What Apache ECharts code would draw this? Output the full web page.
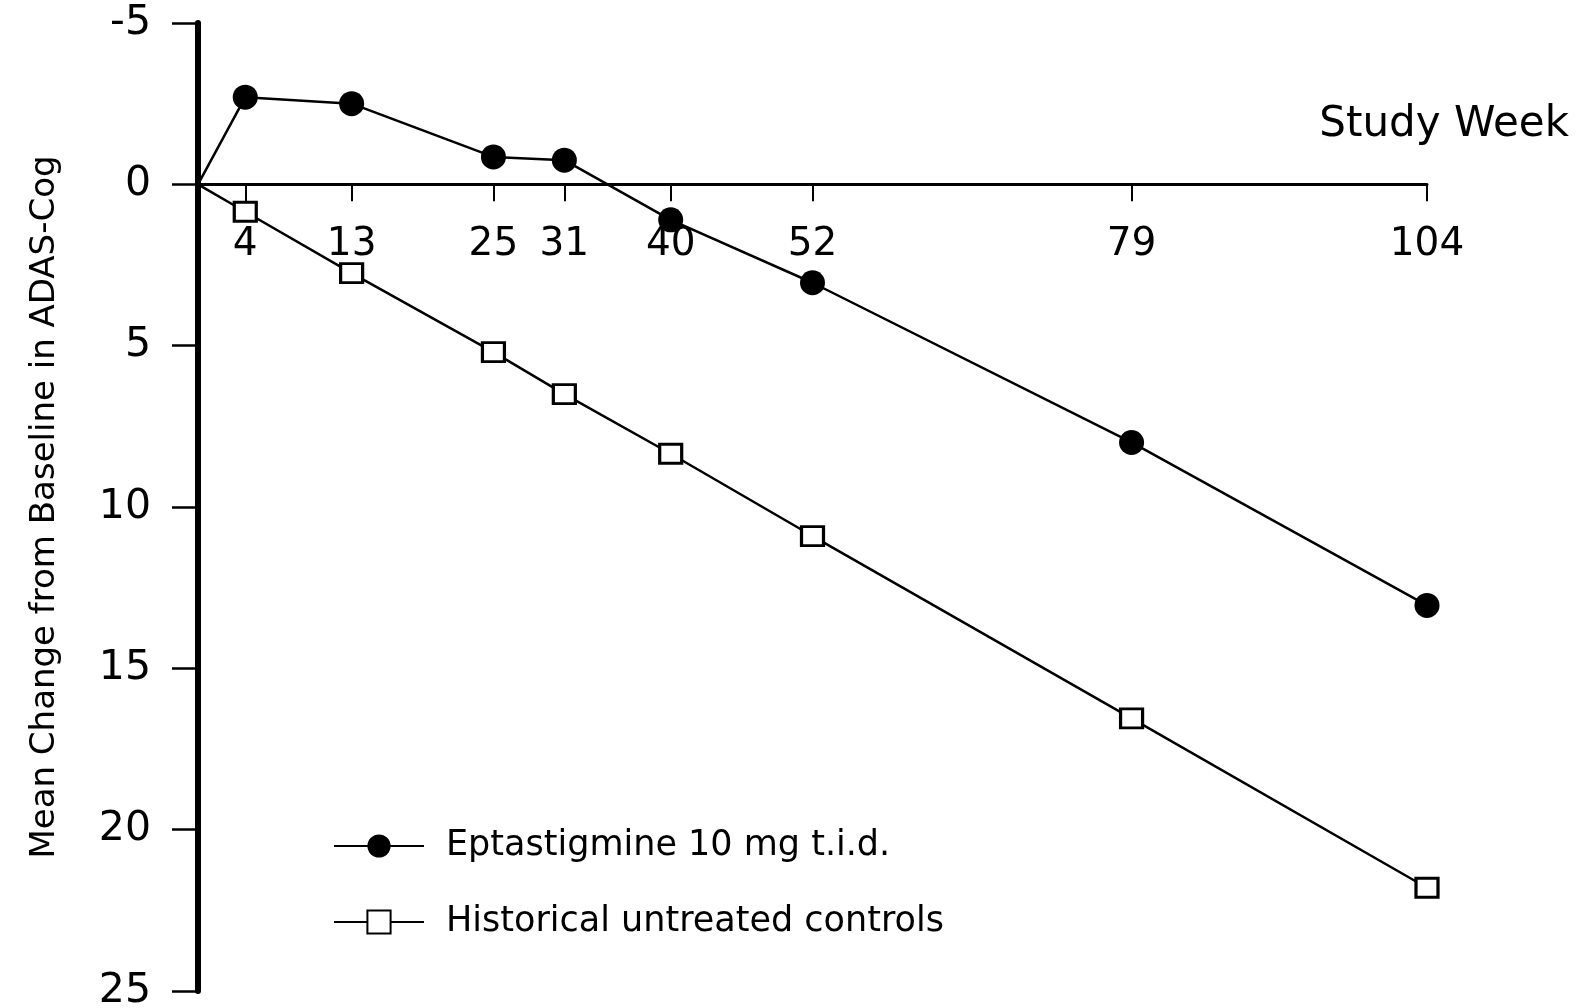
<!DOCTYPE html>
<html>
<head>
<meta charset="utf-8">
<script src="https://cdn.jsdelivr.net/npm/echarts@6/dist/echarts.min.js"></script>
<style>
  html, body { margin: 0; padding: 0; background: #fff; }
  #chart { width: 1583px; height: 1008px; }
</style>
</head>
<body>
<div id="chart"></div>
<script>
// Study weeks at which ADAS-Cog was assessed (week 0 = baseline)
const weeks = [0, 4, 13, 25, 31, 40, 52, 79, 104];
// Mean change from baseline in ADAS-Cog (negative = improvement)
const eptastigmine = [0, -2.7, -2.5, -0.85, -0.75, 1.1, 3.05, 8.0, 13.05];
const controls = [0, 0.85, 2.75, 5.2, 6.5, 8.35, 10.9, 16.55, 21.8];
// Weeks shown as ticks on the horizontal axis
const weekTicks = [4, 13, 25, 31, 40, 52, 79, 104];
const seriesNames = ['Eptastigmine 10 mg t.i.d.', 'Historical untreated controls'];

const FONT = 'DejaVu Sans';

// Baseline point is drawn as the start of the line, without a marker
function toPoints(values) {
  return weeks.map((w, i) => i === 0 ? { value: [w, values[i]], symbol: 'none' } : [w, values[i]]);
}

const chart = echarts.init(document.getElementById('chart'), null, { renderer: 'canvas' });

chart.setOption({
  backgroundColor: '#ffffff',
  animation: false,
  title: {
    text: 'Study Week',
    right: 9,
    top: 99,
    textStyle: { fontFamily: FONT, fontSize: 42, fontWeight: 'normal', color: '#000' }
  },
  legend: {
    orient: 'vertical',
    left: 328,
    top: 821,
    itemWidth: 90,
    itemHeight: 29,
    itemGap: 36,
    data: seriesNames,
    textStyle: { fontFamily: FONT, fontSize: 35, color: '#000', lineHeight: 40, padding: [0, 0, 0, 17] }
  },
  grid: {
    left: 198,
    right: 156,
    top: 23,
    bottom: 17,
    containLabel: false,
    outerBoundsMode: 'none'
  },
  xAxis: [
    {
      // week axis drawn through zero change
      type: 'value',
      min: 0,
      max: 104,
      splitLine: { show: false },
      axisLine: { onZero: true, lineStyle: { color: '#000', width: 3 } },
      axisTick: { show: true, length: 17, lineStyle: { color: '#000', width: 2 }, customValues: weekTicks },
      axisLabel: { show: false }
    },
    {
      // week numbers written just under the zero line
      type: 'value',
      min: 0,
      max: 104,
      position: 'top',
      splitLine: { show: false },
      axisLine: { show: false },
      axisTick: { show: false },
      axisLabel: {
        inside: true,
        customValues: weekTicks,
        margin: 222,
        verticalAlign: 'middle',
        color: '#000',
        fontFamily: FONT,
        fontSize: 39
      }
    }
  ],
  yAxis: {
    type: 'value',
    inverse: true,
    min: -5,
    max: 25,
    interval: 5,
    splitLine: { show: false },
    axisLine: { show: true, onZero: false, lineStyle: { color: '#000', width: 6 } },
    axisTick: { show: true, length: 26, lineStyle: { color: '#000', width: 2.5 } },
    axisLabel: {
      margin: 47,
      color: '#000',
      fontFamily: FONT,
      fontSize: 41
    },
    name: 'Mean Change from Baseline in ADAS-Cog',
    nameLocation: 'middle',
    nameGap: 136,
    nameTextStyle: { fontFamily: FONT, fontSize: 34, color: '#000' }
  },
  series: [
    {
      name: seriesNames[0],
      type: 'line',
      xAxisIndex: 0,
      data: toPoints(eptastigmine),
      symbol: 'circle',
      symbolSize: 25,
      lineStyle: { color: '#000', width: 2.5 },
      itemStyle: { color: '#000', borderColor: '#000', borderWidth: 0 },
      z: 3
    },
    {
      name: seriesNames[1],
      type: 'line',
      xAxisIndex: 0,
      data: toPoints(controls),
      symbol: 'rect',
      symbolSize: [22, 19],
      lineStyle: { color: '#000', width: 2.5 },
      itemStyle: { color: '#fff', borderColor: '#000', borderWidth: 3 },
      z: 3
    }
  ]
});
</script>
</body>
</html>
